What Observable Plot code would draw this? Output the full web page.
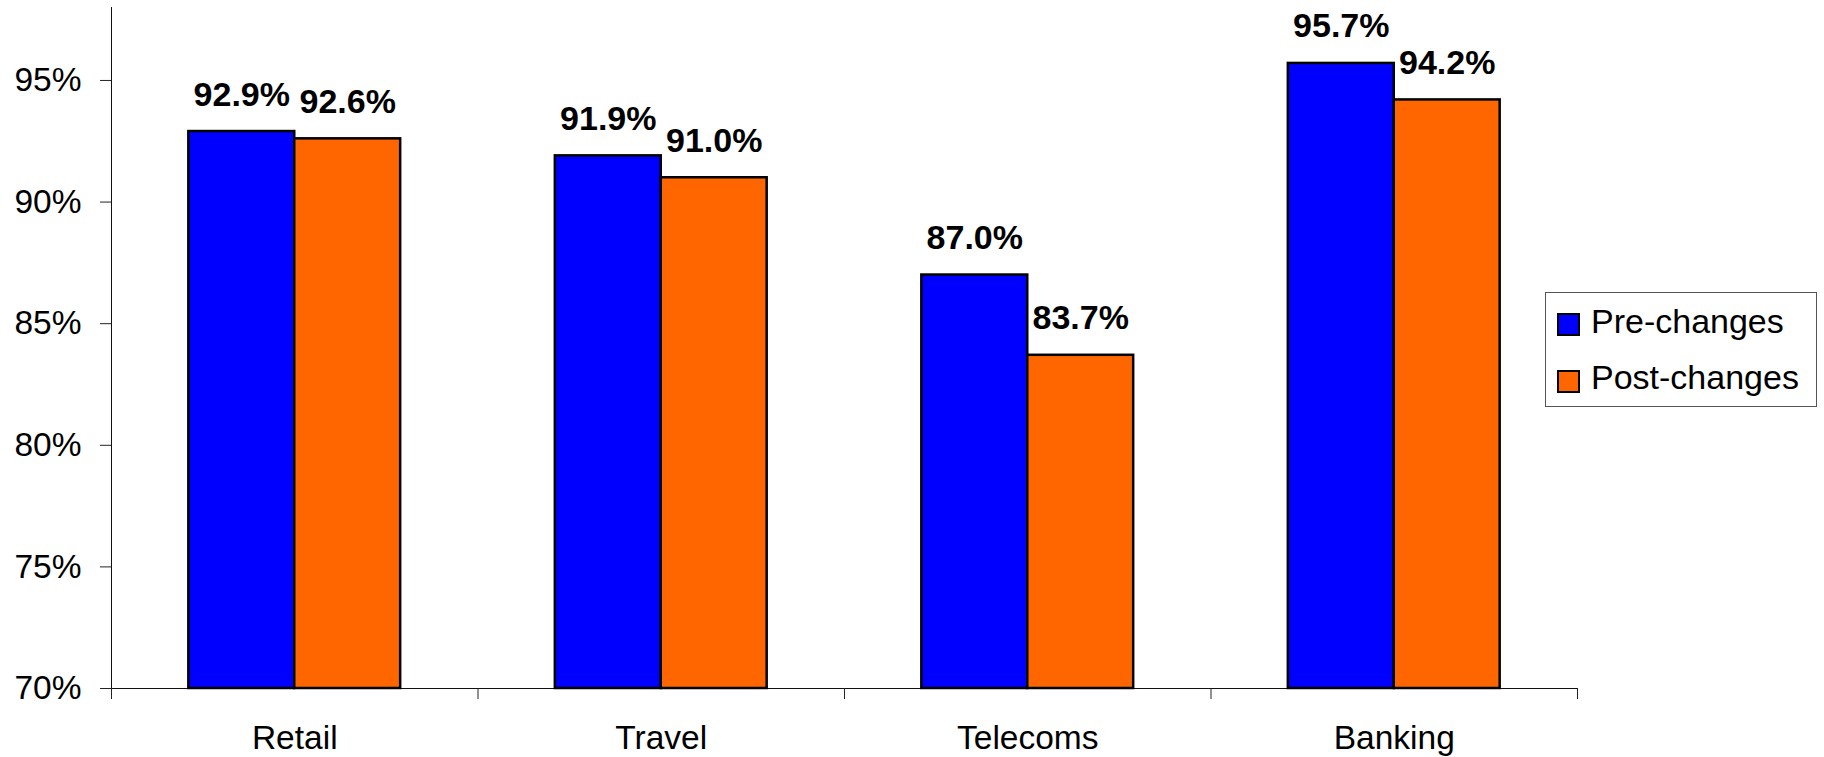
<!DOCTYPE html>
<html>
<head>
<meta charset="utf-8">
<script src="https://cdn.jsdelivr.net/npm/d3@7"></script>
<script src="https://cdn.jsdelivr.net/npm/@observablehq/plot@0.6"></script>
<style>
  body { margin: 0; background: #fff; }
  #wrap { position: relative; width: 1824px; height: 757px; font-family: "Liberation Sans", Arial, sans-serif; }
  #legend { position: absolute; left: 1545px; top: 292px; width: 272px; height: 115px; box-sizing: border-box; border: 1px solid #555; background: #fff; }
  .sw { position: absolute; width: 23px; height: 23px; box-sizing: border-box; border: 2px solid #000; }
  .lt { position: absolute; font-size: 34px; line-height: 34px; white-space: nowrap; color: #000; }
</style>
</head>
<body>
<div id="wrap"></div>
<script>
const categories = ["Retail", "Travel", "Telecoms", "Banking"];
const seriesNames = ["Pre-changes", "Post-changes"];
const preValues = [0.929, 0.919, 0.870, 0.957];
const postValues = [0.926, 0.910, 0.837, 0.942];
const yTicks = [0.70, 0.75, 0.80, 0.85, 0.90, 0.95];
const yDomain = [0.70, 0.98];
const seriesColors = ["#0000ff", "#ff6600"];

const rows = [];
categories.forEach((c, i) => {
  [preValues, postValues].forEach((vals, s) => {
    rows.push({category: c, index: i, series: seriesNames[s], s, value: vals[i]});
  });
});

const barWidth = 0.289; // fraction of a category slot
const bx1 = d => d.index + 0.5 + (d.s - 1) * barWidth;
const bx2 = d => d.index + 0.5 + d.s * barWidth;
const fontFamily = '"Liberation Sans", Arial, sans-serif';

const chart = Plot.plot({
  width: 1824,
  height: 757,
  marginLeft: 111,
  marginRight: 247,
  marginTop: 7,
  marginBottom: 69,
  style: {fontFamily, fontSize: "33.5px", color: "#000", background: "#fff", overflow: "visible"},
  x: {domain: [0, categories.length], axis: null},
  y: {domain: yDomain, axis: null},
  color: {domain: seriesNames, range: seriesColors},
  marks: [
    Plot.ruleX([0], {stroke: "#111", strokeWidth: 1}),
    Plot.ruleY([yDomain[0]], {stroke: "#111", strokeWidth: 1}),
    Plot.rect(rows, {x1: bx1, x2: bx2, y1: yDomain[0], y2: "value", fill: "series", stroke: "#000", strokeWidth: 2.5}),
    Plot.axisY({ticks: yTicks, tickFormat: d3.format(".0%"), tickSize: 11, tickPadding: 19, label: null, fontSize: 33.5, stroke: "#222"}),
    Plot.axisX({ticks: d3.range(categories.length + 1), tickSize: 11, tickFormat: () => "", label: null, stroke: "#222"}),
    Plot.axisX({ticks: categories.map((c, i) => i + 0.5), tickSize: 0, tickPadding: 37, tickFormat: t => categories[Math.floor(t)], label: null, fontSize: 33.5}),
    Plot.text(rows, {x: d => (bx1(d) + bx2(d)) / 2, y: "value", text: d => d3.format(".1%")(d.value), dy: -26, lineAnchor: "bottom", fontWeight: "bold", fontSize: 34, fill: "#000"})
  ]
});

const wrap = document.getElementById("wrap");
wrap.appendChild(chart);

// Legend
const legend = document.createElement("div");
legend.id = "legend";
const swatchTops = [20, 77];   // relative to legend box
const textTops = [11, 67];
seriesNames.forEach((name, i) => {
  const sw = document.createElement("div");
  sw.className = "sw";
  sw.style.left = "11px";
  sw.style.top = swatchTops[i] + "px";
  sw.style.background = seriesColors[i];
  legend.appendChild(sw);
  const t = document.createElement("div");
  t.className = "lt";
  t.style.left = "45px";
  t.style.top = textTops[i] + "px";
  t.textContent = name;
  legend.appendChild(t);
});
wrap.appendChild(legend);
</script>
</body>
</html>
